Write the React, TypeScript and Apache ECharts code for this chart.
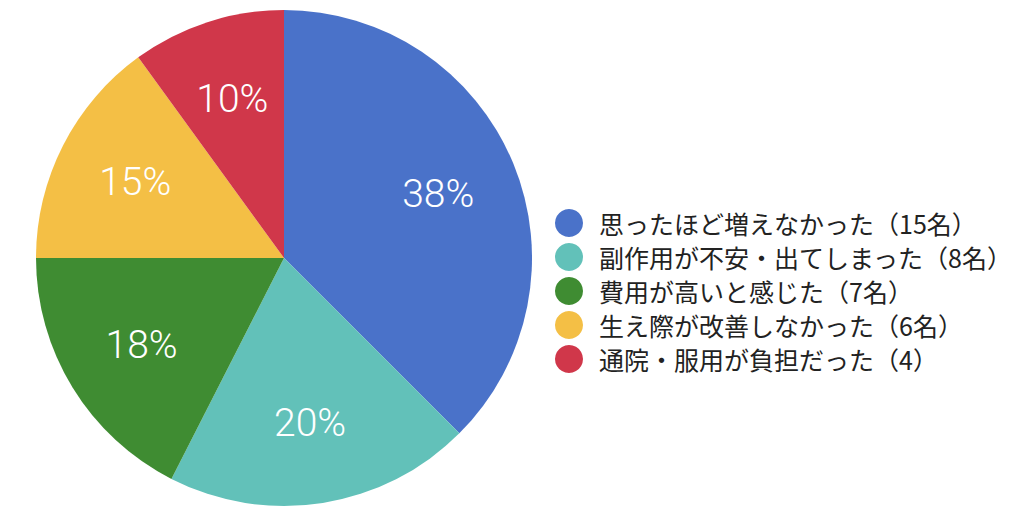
import React, { useEffect, useRef } from "react";
import * as echarts from "echarts";

const categories = [
  "思ったほど増えなかった（15名）",
  "副作用が不安・出てしまった（8名）",
  "費用が高いと感じた（7名）",
  "生え際が改善しなかった（6名）",
  "通院・服用が負担だった（4）",
];
const counts = [15, 8, 7, 6, 4];
const colors = ["#4a72c9", "#62c1b9", "#3f8c32", "#f4bf45", "#d0374a"];

export default function App() {
  const ref = useRef<HTMLDivElement>(null);
  useEffect(() => {
    if (!ref.current) return;
    const chart = echarts.init(ref.current, null, { renderer: "svg" });
    const data = categories.map((name, i) => ({ name, value: counts[i] }));
    chart.setOption({
      animation: false,
      color: colors,
      legend: {
        orient: "vertical",
        left: 555,
        top: 209,
        padding: 0,
        icon: "circle",
        itemWidth: 28,
        itemHeight: 28,
        itemGap: 6,
        data: categories,
        selectedMode: false,
        textStyle: {
          fontSize: 25,
          color: "#222",
          fontFamily: "'Noto Sans CJK JP', sans-serif",
          padding: [0, 0, 0, 11],
        },
      },
      series: [
        {
          type: "pie",
          center: [284, 258],
          radius: [0, 248],
          startAngle: 90,
          clockwise: true,
          silent: true,
          label: { show: false },
          labelLine: { show: false },
          itemStyle: { borderWidth: 0 },
          data: data.map((d, i) => ({ ...d, itemStyle: { color: colors[i] } })),
        },
        {
          type: "pie",
          center: [284, 258],
          radius: [0, 328],
          startAngle: 90,
          clockwise: true,
          silent: true,
          itemStyle: { color: "transparent", borderWidth: 0 },
          labelLine: { show: false },
          label: {
            show: true,
            position: "inside",
            color: "#ffffff",
            fontSize: 39,
            fontFamily: "Roboto, sans-serif",
            fontWeight: 300,
            formatter: (p: any) => Math.round(p.percent) + "%",
          },
          data,
        },
      ],
    });
    return () => chart.dispose();
  }, []);
  return (
    <div
      ref={ref}
      style={{ position: "fixed", left: 0, top: 0, width: 1024, height: 523, background: "#fff" }}
    />
  );
}
